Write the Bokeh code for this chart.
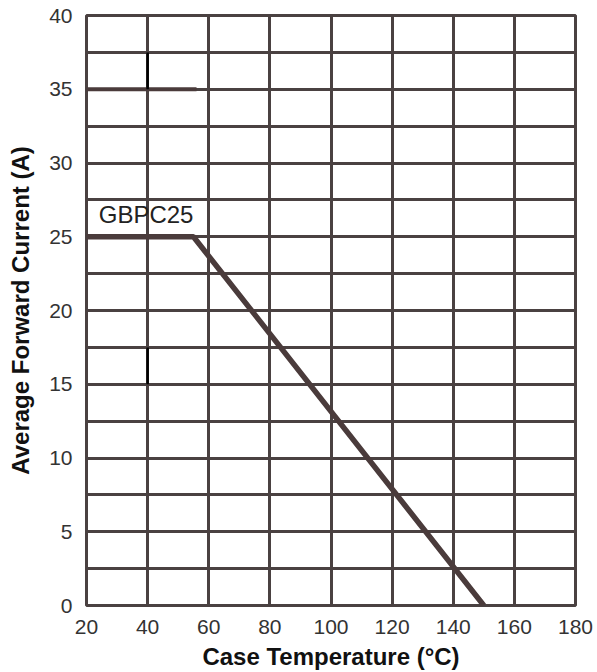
from bokeh.plotting import figure
from bokeh.models import Range1d, FixedTicker
from bokeh.core.properties import value
from bokeh.embed import file_html
from bokeh.resources import INLINE

# data
temp = [20, 55, 150]
current = [25, 25, 0]
ref35_x = [20, 56]
ref35_y = [35, 35]
mark_x = [40, 40]
mark_y0 = [35, 15]
mark_y1 = [37.5, 17.5]
label_text = ["GBPC25"]
label_x = [24]
label_y = [26.5]
x_ticks = [20, 40, 60, 80, 100, 120, 140, 160, 180]
y_ticks = [0, 5, 10, 15, 20, 25, 30, 35, 40]
y_grid = [0, 2.5, 5, 7.5, 10, 12.5, 15, 17.5, 20, 22.5, 25, 27.5, 30, 32.5, 35, 37.5, 40]

GRID = "#4a4141"
CURVE = "#4a3b3b"
FONT = "Liberation Sans"

p = figure(width=597, height=672, output_backend="svg", toolbar_location=None,
           x_range=Range1d(20, 180), y_range=Range1d(0, 40),
           min_border_left=86, min_border_right=22, min_border_top=15, min_border_bottom=67)

p.outline_line_color = GRID
p.outline_line_width = 3
p.background_fill_color = "white"

p.xgrid.ticker = FixedTicker(ticks=x_ticks)
p.ygrid.ticker = FixedTicker(ticks=y_grid)
for g in (p.xgrid, p.ygrid):
    g.grid_line_color = GRID
    g.grid_line_width = 3
    g.grid_line_alpha = 1.0

p.xaxis.ticker = FixedTicker(ticks=x_ticks)
p.yaxis.ticker = FixedTicker(ticks=y_ticks)
for ax in (p.xaxis, p.yaxis):
    ax.axis_line_color = None
    ax.major_tick_line_color = None
    ax.minor_tick_line_color = None
    ax.major_label_text_font = FONT
    ax.major_label_text_font_size = "21px"
    ax.major_label_text_color = "#333333"
    ax.axis_label_text_font = FONT
    ax.axis_label_text_font_size = "24px"
    ax.axis_label_text_font_style = "bold"
    ax.axis_label_text_color = "#111111"

p.xaxis.axis_label = "Case Temperature (°C)"
p.yaxis.axis_label = "Average Forward Current (A)"
p.xaxis.major_label_standoff = 8
p.yaxis.major_label_standoff = 8
p.xaxis.axis_label_standoff = 6
p.yaxis.axis_label_standoff = 12

p.line(ref35_x, ref35_y, line_color=CURVE, line_width=4)
p.line(temp, current, line_color=CURVE, line_width=5.5)
p.segment(x0=mark_x, y0=mark_y0, x1=mark_x, y1=mark_y1, line_color="black", line_width=2.5)

p.text(x=label_x, y=label_y, text=label_text, text_font=value(FONT), text_font_size="24px",
       text_align="left", text_baseline="middle", text_color="#222222")

open("out.html", "w").write(file_html(p, INLINE))
